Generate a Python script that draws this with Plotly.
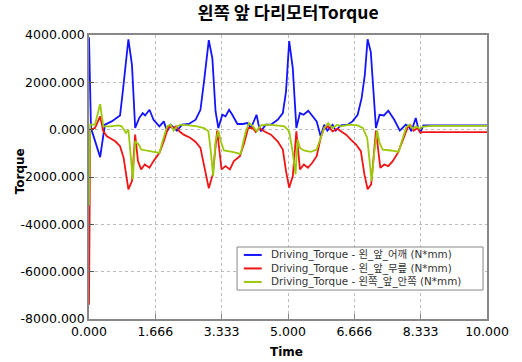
import plotly.graph_objects as go

# Time samples and torque values (N*mm) for each joint motor
t_shoulder = [0.00, 0.05, 0.28, 0.40, 0.57, 0.78, 0.84, 0.93, 0.99, 1.08, 1.16, 1.26, 1.35, 1.41, 1.52,
              1.62, 1.77, 1.88, 1.96, 2.05, 2.13, 2.21, 2.34, 2.51, 2.68, 2.80, 2.89, 3.01, 3.10, 3.18,
              3.25, 3.35, 3.43, 3.52, 3.60, 3.73, 3.86, 3.98, 4.07, 4.15, 4.21, 4.26, 4.32, 4.44, 4.57,
              4.74, 4.87, 4.95, 5.03, 5.12, 5.21, 5.30, 5.39, 5.51, 5.61, 5.72, 5.82, 5.91, 5.99, 6.12,
              6.20, 6.33, 6.50, 6.62, 6.75, 6.85, 6.93, 7.00, 7.08, 7.21, 7.30, 7.41, 7.52, 7.67, 7.81,
              7.96, 8.04, 8.10, 8.21, 8.27, 8.33, 8.40, 10.0]
v_shoulder = [3900, 70, -1160, 210, 350, 600, 1470, 2870, 3820, 2730, 70, 490, 700, 600, 840,
              420, 140, 350, -70, 210, 70, -40, 210, 240, 420, 840, 2030, 3780, 3010, 770,
              70, 630, 560, 840, 630, 240, 240, 280, 70, 350, 630, 210, -70, 210, 210,
              420, 700, 1610, 3740, 2600, 70, 700, 630, 800, 560, 350, -280, 210, -40, 210,
              -40, 180, 210, 350, 630, 1330, 2310, 3820, 3290, 70, 630, 600, 800, 420, -40,
              210, 140, -70, 490, 70, -100, 180, 180]

t_knee = [0.00, 0.03, 0.15, 0.28, 0.36, 0.45, 0.66, 0.78, 0.87, 0.93, 0.99, 1.08, 1.16, 1.23, 1.31,
          1.40, 1.52, 1.62, 1.77, 1.88, 2.00, 2.10, 2.19, 2.27, 2.38, 2.55, 2.68, 2.80, 2.91, 3.01,
          3.11, 3.22, 3.33, 3.43, 3.54, 3.64, 3.79, 3.90, 4.00, 4.11, 4.19, 4.28, 4.40, 4.57, 4.74,
          4.87, 4.95, 5.03, 5.12, 5.21, 5.30, 5.40, 5.50, 5.61, 5.72, 5.82, 5.91, 6.01, 6.12, 6.24,
          6.33, 6.46, 6.58, 6.71, 6.83, 6.92, 7.00, 7.09, 7.21, 7.32, 7.42, 7.52, 7.63, 7.76, 7.89,
          8.00, 8.08, 8.16, 8.25, 8.33, 8.39, 10.0]
v_knee = [-7400, 0, 70, 560, -70, -280, -490, -700, -1190, -1890, -2520, -2170, -210, -1330, -1680,
          -1470, -1610, -1330, -980, -490, 140, 70, 140, -70, -210, -350, -520, -770, -1750, -2480,
          -1890, -40, -1680, -1540, -1680, -1330, -1120, -560, 70, 70, -100, 70, -70, -210, -490,
          -840, -1750, -2450, -1960, -70, -1680, -1470, -1610, -1400, -1120, -350, 70, 140, -70, 40,
          -70, -210, -420, -630, -910, -1890, -2520, -2310, -40, -1610, -1470, -1540, -1330, -980, -420,
          70, 180, -40, 70, -140, -100, -100]

t_inner = [0.00, 0.03, 0.15, 0.28, 0.36, 0.53, 0.74, 0.82, 0.93, 0.99, 1.06, 1.10, 1.16, 1.25, 1.31,
           1.46, 1.62, 1.77, 1.85, 1.96, 2.05, 2.13, 2.21, 2.30, 2.51, 2.72, 2.89, 3.00, 3.06, 3.12,
           3.18, 3.25, 3.31, 3.39, 3.60, 3.81, 3.94, 4.02, 4.12, 4.21, 4.32, 4.49, 4.70, 4.91, 5.03,
           5.12, 5.19, 5.24, 5.30, 5.40, 5.57, 5.72, 5.82, 5.91, 6.01, 6.12, 6.24, 6.33, 6.54, 6.75,
           6.88, 6.99, 7.05, 7.10, 7.17, 7.24, 7.30, 7.38, 7.59, 7.78, 7.86, 7.97, 8.05, 8.14, 8.22,
           8.31, 8.39, 8.60, 10.0]
v_inner = [-3200, 210, 210, 1080, 140, 140, 180, 140, -140, 0, -1330, -2100, -490, -630, -840,
           -880, -940, -980, -490, 140, 210, -40, 140, 210, 180, 140, 70, -70, -910, -1960,
           -490, -40, -490, -880, -940, -1020, -70, 280, 140, -70, 180, 210, 180, 140, -70,
           -980, -1890, -420, -770, -880, -940, -840, -350, 70, 280, 70, 210, 140, 210, 180,
           70, -350, -1330, -2170, -910, -40, -560, -840, -880, -940, -490, 100, 210, 40, 140,
           40, 130, 160, 160]

x_ticks = [0, 1.666, 3.333, 5.0, 6.666, 8.333, 10.0]
x_tick_text = ["0.000", "1.666", "3.333", "5.000", "6.666", "8.333", "10.000"]
y_ticks = [4000, 2000, 0, -2000, -4000, -6000, -8000]
y_tick_text = ["4000.000", "2000.000", "0.000", "-2000.000", "-4000.000", "-6000.000", "-8000.000"]

series_names = ["Driving_Torque - 왼_앞_어깨 (N*mm)",
                "Driving_Torque - 왼_앞_무릎 (N*mm)",
                "Driving_Torque - 왼쪽_앞_안쪽 (N*mm)"]
series_colors = ["#1414ff", "#f01414", "#9cc80a"]
series_data = [(t_shoulder, v_shoulder), (t_knee, v_knee), (t_inner, v_inner)]

tick_font = dict(family="'DejaVu Sans', sans-serif", size=12.5, color="#000")
axis_title_font = dict(family="'DejaVu Sans', sans-serif", size=12, color="#000")
kr_font = "'Noto Sans CJK KR', sans-serif"
legend_font = "'DejaVu Sans', 'Noto Sans CJK KR', sans-serif"

fig = go.Figure()
for name, (t, v), color in zip(series_names, series_data, series_colors):
    fig.add_trace(go.Scatter(x=t, y=v, mode="lines", name=name, showlegend=False,
                             line=dict(color=color, width=1.8)))

# Compact legend box drawn in paper coordinates
box_x0, box_x1, box_y0, box_y1 = 0.372, 0.990, 0.102, 0.2535
row_y = [0.2255, 0.1780, 0.1305]
fig.add_shape(type="rect", xref="paper", yref="paper", x0=box_x0, x1=box_x1, y0=box_y0, y1=box_y1,
              line=dict(color="#888", width=1), fillcolor="white", layer="above")
for color, ry in zip(series_colors, row_y):
    fig.add_shape(type="line", xref="paper", yref="paper", x0=0.389, x1=0.434, y0=ry, y1=ry,
                  line=dict(color=color, width=2), layer="above")
fig.add_annotation(xref="paper", yref="paper", x=0.452, y=row_y[1],
                   xanchor="left", yanchor="middle", align="left",
                   text="<br>".join(series_names), showarrow=False,
                   font=dict(family=legend_font, size=10.4, color="#333"))

# Axis titles
fig.add_annotation(xref="paper", yref="paper", x=0.497, y=-0.116, xanchor="center", yanchor="middle",
                   text="<b>Time</b>", showarrow=False, font=axis_title_font)
fig.add_annotation(xref="paper", yref="paper", x=-0.1734, y=0.52, xanchor="center", yanchor="middle",
                   text="<b>Torque</b>", textangle=-90, showarrow=False, font=axis_title_font)

fig.update_layout(
    width=522, height=362,
    margin=dict(l=89, r=35, t=35, b=43),
    paper_bgcolor="white", plot_bgcolor="white",
    title=dict(text="<b>왼쪽 앞 다리모터Torque</b>", x=0.552, xanchor="center",
               y=0.965, yanchor="middle",
               font=dict(family=kr_font, size=17.5, color="#000")),
    xaxis=dict(range=[0, 10], tickvals=x_ticks, ticktext=x_tick_text, automargin=False,
               showgrid=True, gridcolor="#bbbbbb", griddash="dot", gridwidth=1,
               zeroline=False, showline=True, linecolor="#888", linewidth=1.5, mirror=True,
               ticks="inside", ticklen=5, tickcolor="#888",
               tickfont=tick_font),
    yaxis=dict(range=[-8000, 4000], tickvals=y_ticks, ticktext=y_tick_text, automargin=False,
               showgrid=True, gridcolor="#bbbbbb", griddash="dot", gridwidth=1,
               zeroline=False, showline=True, linecolor="#888", linewidth=1.5, mirror=True,
               ticks="inside", ticklen=5, tickcolor="#555",
               tickfont=tick_font),
)

fig.write_html("out.html")
